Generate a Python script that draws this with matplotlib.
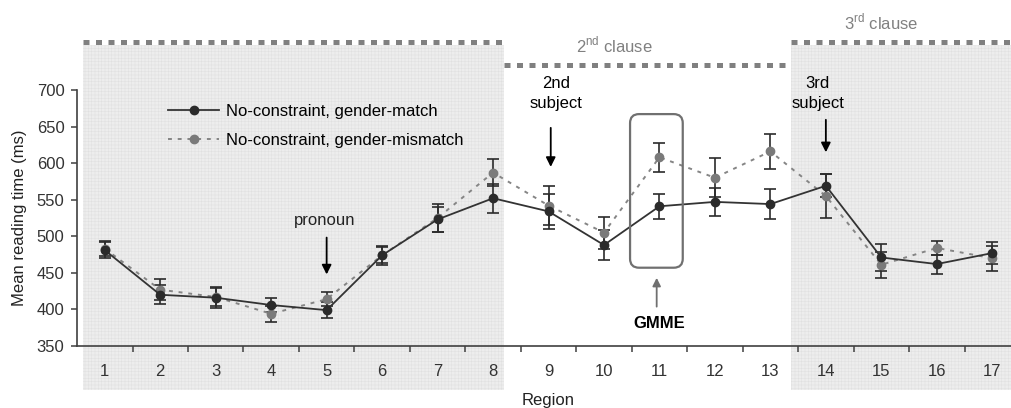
import matplotlib
matplotlib.use("Agg")
import matplotlib.pyplot as plt
import numpy as np
from matplotlib.patches import Rectangle, FancyBboxPatch
from matplotlib.lines import Line2D
from matplotlib.transforms import blended_transform_factory

plt.rcParams['font.family'] = ['Liberation Sans', 'DejaVu Sans']
plt.rcParams['mathtext.fontset'] = 'custom'
plt.rcParams['mathtext.rm'] = 'Liberation Sans'
plt.rcParams['hatch.linewidth'] = 0.3

# data
regions = np.arange(1, 18)
match = [481, 420, 416, 406, 399, 474, 523, 552, 534, 488, 541, 547, 544, 569, 471, 462, 477]
match_se = [11, 13, 14, 9, 11, 13, 17, 20, 24, 20, 17, 19, 21, 16, 18, 13, 15]
mismatch = [483, 427, 417, 394, 414, 474, 525, 587, 542, 505, 608, 580, 616, 555, 461, 484, 470]
mismatch_se = [10, 14, 12, 11, 10, 11, 19, 18, 27, 22, 20, 27, 24, 30, 18, 10, 17]
labels = ["No-constraint, gender-match", "No-constraint, gender-mismatch"]
yticks = [350, 400, 450, 500, 550, 600, 650, 700]

fig = plt.figure(figsize=(10.11, 4.08), dpi=100)
ax = fig.add_axes([0.0762, 0.152, 0.9327, 0.6275])
ax.patch.set_visible(False)

dark = '#2b2b2b'
grey = '#858585'

# clause shading + dashed clause bars (x in data, y in axes fraction)
tr = blended_transform_factory(ax.transData, ax.transAxes)
shaded = [(0.6, 8.2), (13.38, 18.0)]
for x0, x1 in shaded:
    ax.add_patch(Rectangle((x0, -0.172), x1 - x0, 1.348, transform=tr,
                           facecolor='#ededed', edgecolor='#dedede', hatch='+++++',
                           lw=0, zorder=0, clip_on=False))
clause_bars = [(0.6, 8.2, 1.1875), (8.2, 13.38, 1.098), (13.38, 18.0, 1.1875)]
for x0, x1, yy in clause_bars:
    ax.add_line(Line2D([x0, x1], [yy, yy], transform=tr, color='#808080', lw=3.6,
                       dashes=(1.2, 1.3), solid_capstyle='butt', dash_capstyle='butt',
                       clip_on=False, zorder=1))
ax.text(10.18, 1.176, r'2$^{\mathrm{nd}}$ clause', transform=tr, ha='center', va='center',
        fontsize=12, color='#808080')
ax.text(15.0, 1.266, r'3$^{\mathrm{rd}}$ clause', transform=tr, ha='center', va='center',
        fontsize=12, color='#808080')

# error bars then lines
ax.errorbar(regions, match, yerr=match_se, fmt='none', ecolor=dark, elinewidth=1.2,
            capsize=4.5, capthick=1.2, zorder=3)
ax.errorbar(regions, mismatch, yerr=mismatch_se, fmt='none', ecolor=dark, elinewidth=1.2,
            capsize=4.5, capthick=1.2, zorder=3)
ax.plot(regions, mismatch, color=grey, lw=1.4, linestyle=(0, (2, 3)), marker='o',
        markersize=6, markerfacecolor='#7a7a7a', markeredgecolor='#7a7a7a',
        label=labels[1], zorder=4)
ax.plot(regions, match, color='#333333', lw=1.3, marker='o', markersize=6,
        markerfacecolor=dark, markeredgecolor=dark, label=labels[0], zorder=5)

ax.set_xlim(0.5, 17.5)
ax.set_ylim(350, 700)
ax.set_yticks(yticks)
ax.set_xticks(regions)
ax.set_xticks(np.arange(1.5, 17, 1), minor=True)
ax.tick_params(axis='x', which='major', length=0, pad=13, labelsize=12, colors='#333333')
ax.tick_params(axis='x', which='minor', length=4, width=1.1, color='#404040')
ax.tick_params(axis='y', length=4, width=1.1, pad=5, labelsize=12, color='#404040',
               labelcolor='#333333')
for s in ['top', 'right']:
    ax.spines[s].set_visible(False)
for s in ['left', 'bottom']:
    ax.spines[s].set_color('#404040')
    ax.spines[s].set_linewidth(1.2)

ax.set_ylabel('Mean reading time (ms)', fontsize=12, color='#222222')
ax.yaxis.set_label_coords(-0.053, 0.5)
ax.set_xlabel('Region', fontsize=12, color='#222222', va='top')
ax.xaxis.set_label_coords(0.5, -0.185)

handles, labs = ax.get_legend_handles_labels()
ax.legend(handles[::-1], labs[::-1], loc='upper left', bbox_to_anchor=(0.166, 0.745),
          bbox_transform=fig.transFigure, frameon=False, fontsize=12, handlelength=3.1,
          handletextpad=0.4, labelspacing=0.85, borderpad=0, borderaxespad=0)

# annotations
arrow_k = dict(arrowstyle='-|>', color='black', lw=1.3, mutation_scale=14)
ax.annotate('', xy=(5.0, 444), xytext=(5.0, 502), arrowprops=arrow_k)
ax.text(4.96, 522, 'pronoun', ha='center', va='center', fontsize=12, color='#222222')
ax.annotate('', xy=(9.04, 591), xytext=(9.04, 652), arrowprops=arrow_k)
ax.text(9.13, 695, '2nd\nsubject', ha='center', va='center', fontsize=12,
        linespacing=1.4, color='black')
ax.annotate('', xy=(14.0, 611), xytext=(14.0, 663), arrowprops=arrow_k)
ax.text(13.85, 695, '3rd\nsubject', ha='center', va='center', fontsize=12,
        linespacing=1.4, color='black')
ax.annotate('', xy=(10.95, 447), xytext=(10.95, 400),
            arrowprops=dict(arrowstyle='-|>', color='#707070', lw=1.3, mutation_scale=12))
ax.text(11.0, 381, 'GMME', ha='center', va='center', fontsize=12, fontweight='bold')

# GMME box drawn in pixel space so the rounded corners stay round
(bx0, by0), (bx1, by1) = ax.transData.transform([(10.47, 457), (11.42, 667)])
ax.add_artist(FancyBboxPatch((bx0, by0), bx1 - bx0, by1 - by0,
                             boxstyle='round,pad=0,rounding_size=9', transform=None,
                             facecolor='none', edgecolor='#707070', lw=1.6, zorder=6))

fig.savefig('out.png', dpi=100)
